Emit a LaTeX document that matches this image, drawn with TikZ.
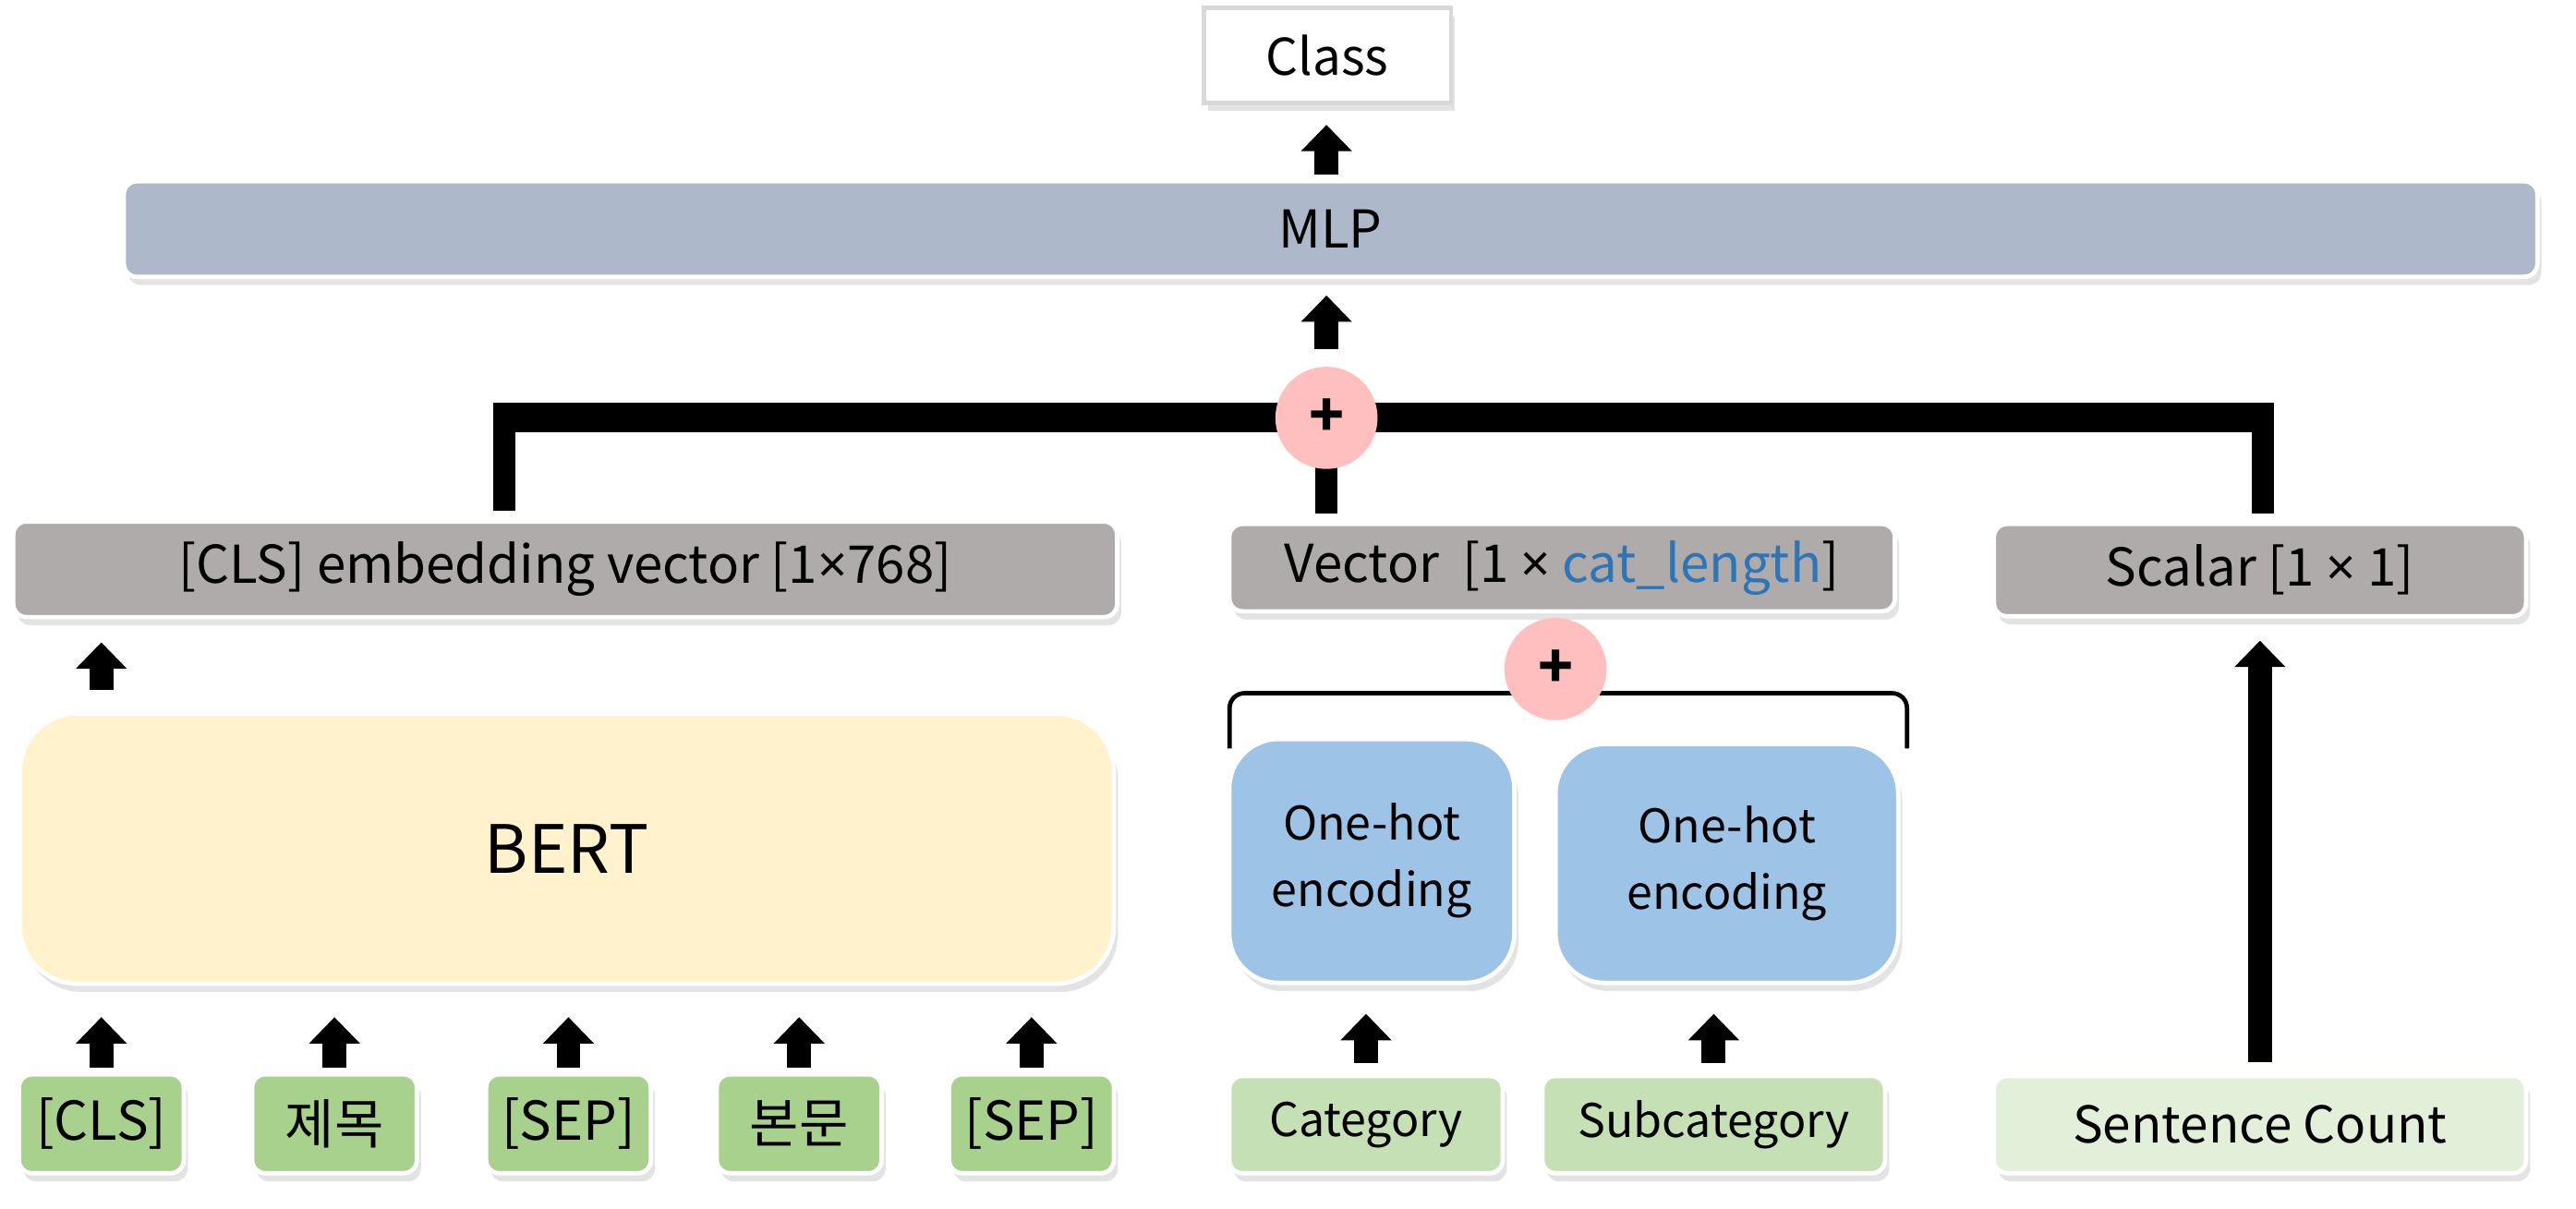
\documentclass[tikz,border=0pt]{standalone}
\usepackage{fontspec}
\setmainfont{Noto Sans CJK KR}
\newfontfamily\timesfont{Noto Sans}
\usetikzlibrary{arrows.meta,shadows,positioning}

\definecolor{mlpblue}{HTML}{ADB9CA}
\definecolor{vecgray}{HTML}{AFABAB}
\definecolor{bertyellow}{HTML}{FFF2CC}
\definecolor{hotblue}{HTML}{9DC3E6}
\definecolor{catgreen}{HTML}{C5E0B4}
\definecolor{countgreen}{HTML}{E2F0D9}
\definecolor{tokgreen}{HTML}{A9D18E}
\definecolor{pluspink}{HTML}{FFBFBF}
\definecolor{lenblue}{HTML}{2E75B6}

\newcommand{\tms}{{\timesfont ×}}

\begin{document}
\begin{tikzpicture}[x=0.02cm, y=-0.02cm,
			every node/.style = {align=center, inner sep=0pt},
			box/.style = {draw=white, line width=1.5pt, rounded corners=0.16cm,
				drop shadow={shadow xshift=0.05cm, shadow yshift=-0.1cm, opacity=0.22}},
			graybox/.style = {box, fill=vecgray, minimum height=1.14cm, font=\fontsize{18}{22}\selectfont},
			token/.style = {box, fill=tokgreen, minimum width=2cm, minimum height=1.2cm, font=\fontsize{18.5}{22}\selectfont},
			feature/.style = {box, minimum height=1.18cm},
			onehot/.style = {box, fill=hotblue, rounded corners=0.6cm, font=\fontsize{16}{23}\selectfont},
			plus/.style = {circle, fill=pluspink, minimum size=1.24cm, font=\bfseries\fontsize{20}{20}\selectfont},
			blk/.style = {line width=0.29cm, -{Triangle[width=0.6cm,length=0.32cm]}},
			bus/.style = {line width=0.27cm},
			brk/.style = {line width=1.5pt, rounded corners=0.18cm}]
			
			\useasboundingbox (0,0) rectangle (1563.3,733.6);
			
			% output side
			\node[box, fill=white, draw=black!15, sharp corners, minimum width=3cm, minimum height=1.15cm,
				font=\fontsize{17.5}{21}\selectfont] (class) at (805.6,33.7) {Class};
			\node[box, fill=mlpblue, minimum width=29.3cm, minimum height=1.16cm,
				font=\fontsize{18}{22}\selectfont] (mlp) at (807.5,139) {MLP};
			
			% the three feature vectors
			\node[graybox, minimum width=13.4cm, minimum height=1.16cm] (clsvec) at (343,345.5) {[CLS] embedding vector [1\tms768]};
			\node[graybox, minimum width=8.08cm, minimum height=1.06cm] (catvec) at (948,344.5) {Vector\ \ [1 \tms{} \textcolor{lenblue}{cat\_length}]};
			\node[graybox, minimum width=6.46cm, minimum height=1.12cm] (scalar) at (1371.5,346) {Scalar [1 \tms{} 1]};
			
			% BERT branch
			\node[box, fill=bertyellow, rounded corners=0.7cm, minimum width=13.28cm, minimum height=3.28cm,
				font=\fontsize{23}{27}\selectfont] (bert) at (344,515) {BERT};
			\node[token] (tok1) at (61.5,682) {[CLS]};
			\node[token] (tok2) at (203,682) {제목};
			\node[token] (tok3) at (345,682) {[SEP]};
			\node[token] (tok4) at (485,682) {본문};
			\node[token] (tok5) at (626,682) {[SEP]};
			
			% category branch
			\node[onehot, minimum width=3.46cm, minimum height=2.96cm] (hotA) at (832.5,522.5) {One-hot\\encoding};
			\node[onehot, minimum width=4.16cm, minimum height=2.9cm] (hotB) at (1048,524) {One-hot\\encoding};
			\node[feature, fill=catgreen, minimum width=3.32cm, font=\fontsize{16}{19}\selectfont] (category) at (829,682.5) {Category};
			\node[feature, fill=catgreen, minimum width=4.16cm, font=\fontsize{16}{19}\selectfont] (subcat) at (1040,682.5) {Subcategory};
			
			% count branch
			\node[feature, fill=countgreen, minimum width=6.46cm, font=\fontsize{17.5}{21}\selectfont] (sentcount) at (1371.5,682.5) {Sentence Count};
			
			% concat bus
			\coordinate (busL) at (306,253.6);
			\coordinate (busC) at (805,253.6);
			\coordinate (busR) at (1373.5,253.6);
			\draw[bus, shorten <=0.1cm] (clsvec.north -| busL) -- (busL);
			\draw[bus, shorten <=0.1cm] (scalar.north -| busR) -- (busR);
			\draw[bus, shorten <=0.1cm] (catvec.north -| busC) -- (busC);
			\draw[line width=0.36cm] ([xshift=-0.135cm]busL) -- ([xshift=0.135cm]busR);
			\node[plus] (plusA) at (busC) {+};
			
			% bracket over the one-hot boxes
			\coordinate (brkC) at (944,420.7);
			\draw[brk] ([xshift=0.03cm,yshift=-0.14cm]hotA.north west) |- (brkC) -| ([xshift=0.08cm,yshift=-0.08cm]hotB.north east);
			\node[plus] (plusB) at (944,406) {+};
			
			% arrows
			\draw[blk, shorten <=0.05cm, shorten >=0.24cm] (mlp.north -| plusA) -- (class.south -| plusA);
			\draw[blk, shorten <=0.21cm, shorten >=0.2cm] (plusA.north) -- (mlp.south -| plusA);
			\draw[blk, shorten <=0.26cm, shorten >=0.28cm] (bert.north -| tok1) -- (clsvec.south -| tok1);
			\draw[blk, shorten <=0.06cm, shorten >=0.38cm] (tok1) -- (tok1 |- bert.south);
			\draw[blk, shorten <=0.06cm, shorten >=0.38cm] (tok2) -- (tok2 |- bert.south);
			\draw[blk, shorten <=0.06cm, shorten >=0.38cm] (tok3) -- (tok3 |- bert.south);
			\draw[blk, shorten <=0.06cm, shorten >=0.38cm] (tok4) -- (tok4 |- bert.south);
			\draw[blk, shorten <=0.06cm, shorten >=0.38cm] (tok5) -- (tok5 |- bert.south);
			\draw[blk, shorten <=0.13cm, shorten >=0.35cm] (category) -- (category |- hotA.south);
			\draw[blk, shorten <=0.13cm, shorten >=0.35cm] (subcat) -- (subcat |- hotB.south);
			\draw[blk, shorten <=0.14cm, shorten >=0.27cm] (sentcount) -- (sentcount |- scalar.south);
\end{tikzpicture}
\end{document}
